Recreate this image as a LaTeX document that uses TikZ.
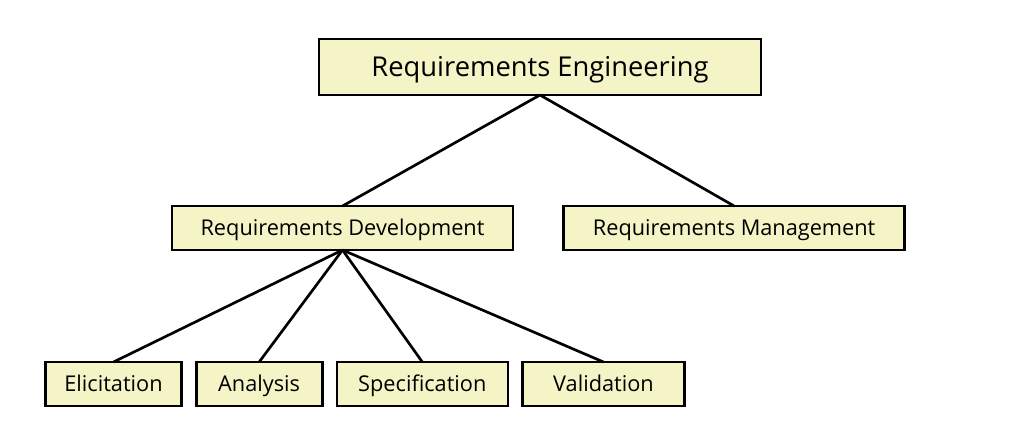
\documentclass[tikz,border=0pt]{standalone}
\usepackage{fontspec}
\setmainfont{Open Sans}
\usepackage{tikz}
\usetikzlibrary{positioning}
\definecolor{boxfill}{RGB}{244,244,198}
\tikzstyle{reqbox} = [draw=black,line width=2pt,fill=boxfill,outer sep=0pt,inner sep=0pt,font=\fontsize{16.3}{19}\selectfont,text height=15.6pt,text depth=4pt,minimum height=33pt]
\tikzstyle{topbox} = [reqbox,font=\fontsize{20.5}{24}\selectfont,text height=18.6pt,minimum width=331.5pt,minimum height=42pt]
\tikzstyle{midbox} = [reqbox,minimum width=255.75pt]
\tikzstyle{link} = [line width=2pt]

\begin{document}
\begin{tikzpicture}[x=0.75pt,y=-0.75pt]
	\useasboundingbox (0,0) rectangle (1032,422);

	\node[topbox] (re) at (540,67) {Requirements Engineering};
	\node[midbox] (dev) at (342.5,228) {Requirements Development};
	\node[midbox] (mgmt) [right=38pt of dev] {Requirements Management};

	\node[reqbox,minimum width=102pt] (elic) at (113.5,384) {Elicitation};
	\node[reqbox,minimum width=94.5pt] (anal) [right=11pt of elic] {Analysis};
	\node[reqbox,minimum width=128.25pt] (spec) [right=11pt of anal] {Specification};
	\node[reqbox,minimum width=121.5pt] (valid) [right=11pt of spec] {Validation};

	\draw[link] (re.south) -- (dev.north);
	\draw[link] (re.south) -- (mgmt.north);
	\foreach \n in {elic,anal,spec,valid}
		\draw[link] (dev.south) -- (\n.north);
\end{tikzpicture}
\end{document}
